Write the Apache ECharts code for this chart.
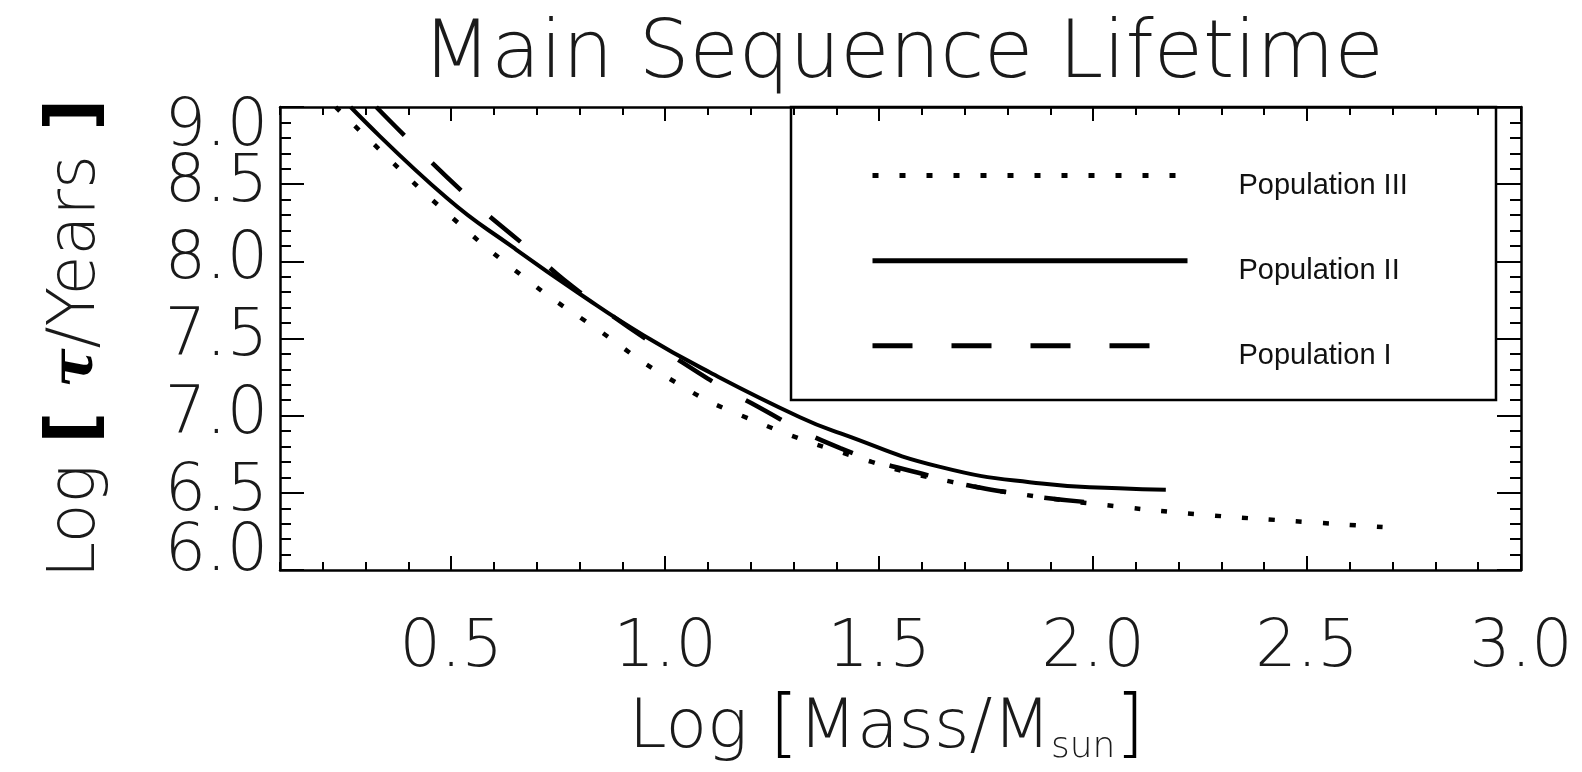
<!DOCTYPE html>
<html>
<head>
<meta charset="utf-8">
<script src="https://cdn.jsdelivr.net/npm/echarts@6/dist/echarts.min.js"></script>
<style>
html,body{margin:0;padding:0;background:#fff;}
#chart{width:1582px;height:772px;}
</style>
</head>
<body>
<div id="chart"></div>
<script>
// ---- data ----
const seriesNames = ['Population III', 'Population II', 'Population I'];

const popIIIMass = [0.23, 0.299, 0.486, 0.683, 0.84, 1.004, 1.179, 1.483, 1.67, 1.861, 2.051, 2.246, 2.499, 2.686];
const popIIILife = [9.0, 8.813, 8.323, 7.869, 7.563, 7.25, 7.0, 6.70, 6.571, 6.479, 6.414, 6.361, 6.311, 6.277];

const popIIMass = [0.265, 0.49, 0.645, 0.80, 0.95, 1.105, 1.315, 1.41, 1.64, 1.88, 2.06, 2.17];
const popIILife = [9.0, 8.41, 8.09, 7.79, 7.52, 7.28, 6.99, 6.885, 6.67, 6.56, 6.53, 6.52];

const popIMass = [0.325, 0.532, 0.673, 0.801, 1.043, 1.202, 1.409, 1.619, 1.806, 1.985];
const popILife = [9.0, 8.436, 8.10, 7.80, 7.34, 7.08, 6.79, 6.61, 6.50, 6.44];

const xMajorTicks = [0.5, 1.0, 1.5, 2.0, 2.5, 3.0];
const yInnerLabels = [6.5, 7.0, 7.5, 8.0, 8.5];
const yEdgeLabels = [6.0, 9.0];
const xRange = [0.1, 3.0];
const yRange = [6.0, 9.0];

const titleText = 'Main Sequence Lifetime';

// ---- chart ----
const pairs = (xs, ys) => xs.map((x, i) => [x, ys[i]]);
const FONT = '"DejaVu Sans", "Open Sans", sans-serif';
const FW = 200;
const TXT = '#1a1a1a';
const chart = echarts.init(document.getElementById('chart'), null, {renderer: 'canvas'});

const axisLineStyle = {show: true, lineStyle: {color: '#000', width: 2.5}};
const labFont = {fontFamily: FONT, fontWeight: FW, fontSize: 65, color: TXT};

function xAxisDef(position, major, withLabels) {
  return {
    type: 'value', position: position, min: xRange[0], max: xRange[1],
    interval: 0.1,
    axisLine: major ? {show: false} : axisLineStyle,
    axisTick: major
      ? {show: true, inside: true, length: 14, lineStyle: {color: '#000', width: 2}, customValues: xMajorTicks}
      : {show: true, inside: true, length: 8, lineStyle: {color: '#000', width: 2}},
    axisLabel: withLabels
      ? Object.assign({show: true, customValues: xMajorTicks, formatter: v => v.toFixed(1), margin: 47}, labFont)
      : {show: false},
    splitLine: {show: false},
    name: withLabels ? '{n|Log }{b|[}{n|Mass/M}{s|sun}{b|]}' : '',
    nameLocation: 'middle', nameGap: 122,
    nameTextStyle: {
      padding: [0, 28, 0, 0],
      rich: {
        n: {fontFamily: FONT, fontWeight: FW, fontSize: 68, color: TXT},
        b: {fontFamily: FONT, fontWeight: FW, fontSize: 74, color: '#000'},
        s: {fontFamily: FONT, fontWeight: 300, fontSize: 36, color: TXT, verticalAlign: 'bottom', padding: [32, 0, 0, 0]}
      }
    }
  };
}

function yAxisDef(position, kind) {
  const base = {
    type: 'value', position: position, min: yRange[0], max: yRange[1], interval: 0.5,
    splitLine: {show: false}, minorSplitLine: {show: false}
  };
  if (kind === 'edgeLabels') {
    return Object.assign(base, {
      axisLine: {show: false}, axisTick: {show: false}, minorTick: {show: false},
      axisLabel: {
        show: true, customValues: yEdgeLabels, margin: 12, showMinLabel: true, showMaxLabel: true,
        formatter: v => (v === yRange[1] ? '{hi|' : '{lo|') + v.toFixed(1) + '}',
        rich: {
          hi: Object.assign({padding: [42, 0, 0, 0]}, labFont),
          lo: Object.assign({padding: [0, 0, 34, 0]}, labFont)
        }
      }
    });
  }
  const withLabels = kind === 'main';
  return Object.assign(base, {
    axisLine: axisLineStyle,
    axisTick: {show: true, inside: true, length: 24, lineStyle: {color: '#000', width: 2}},
    minorTick: {show: true, splitNumber: 5, length: 11, lineStyle: {color: '#000', width: 2}},
    axisLabel: withLabels
      ? Object.assign({show: true, customValues: yInnerLabels, formatter: v => v.toFixed(1), margin: 12}, labFont)
      : {show: false},
    name: withLabels ? '{n|Log }{b|[ }{t|τ}{n|/Years}{b| ]}' : '',
    nameLocation: 'middle', nameRotate: 90, nameGap: 168,
    nameTextStyle: {
      rich: {
        n: {fontFamily: FONT, fontWeight: FW, fontSize: 65, color: TXT},
        b: {fontFamily: FONT, fontWeight: 'bold', fontSize: 70, color: '#000'},
        t: {fontFamily: '"DejaVu Serif", serif', fontStyle: 'italic', fontWeight: 'bold', fontSize: 58, color: '#000'}
      }
    }
  });
}

const option = {
  backgroundColor: '#fff',
  animation: false,
  title: {
    text: titleText, left: 898, top: 11, textAlign: 'center',
    textStyle: {fontFamily: FONT, fontWeight: FW, fontSize: 80, color: TXT}
  },
  grid: {left: 280, right: 61, top: 107, bottom: 202, containLabel: false},
  xAxis: [
    xAxisDef('bottom', false, true),
    xAxisDef('bottom', true, false),
    xAxisDef('top', false, false),
    xAxisDef('top', true, false)
  ],
  yAxis: [
    yAxisDef('left', 'main'),
    yAxisDef('right', 'mirror'),
    yAxisDef('left', 'edgeLabels')
  ],
  legend: {
    data: seriesNames, orient: 'vertical', left: 870, top: 170,
    itemWidth: 315, itemHeight: 14, itemGap: 55, padding: 0,
    selectedMode: false,
    itemStyle: {color: 'rgba(0,0,0,0)', borderWidth: 0},
    lineStyle: {width: 5},
    formatter: name => '{a|' + name + '}',
    textStyle: {
      rich: {a: {fontFamily: '"Liberation Sans", sans-serif', fontSize: 29, color: '#111', padding: [20, 0, 0, 46]}}
    }
  },
  graphic: [{
    type: 'rect', z: 100,
    shape: {x: 791, y: 107, width: 705, height: 293},
    style: {fill: 'none', stroke: '#000', lineWidth: 2.5}
  }],
  series: [
    {name: seriesNames[0], type: 'line', data: pairs(popIIIMass, popIIILife), smooth: 0.5, showSymbol: false, symbol: 'none',
     lineStyle: {color: '#000', width: 4.5, type: [6, 21], cap: 'butt'}, itemStyle: {color: '#000'}},
    {name: seriesNames[1], type: 'line', data: pairs(popIIMass, popIILife), smooth: 0.5, showSymbol: false, symbol: 'none',
     lineStyle: {color: '#000', width: 4}, itemStyle: {color: '#000'}},
    {name: seriesNames[2], type: 'line', data: pairs(popIMass, popILife), smooth: 0.5, showSymbol: false, symbol: 'none',
     lineStyle: {color: '#000', width: 4.5, type: [40, 39], cap: 'butt'}, itemStyle: {color: '#000'}}
  ]
};
chart.setOption(option);
</script>
</body>
</html>
